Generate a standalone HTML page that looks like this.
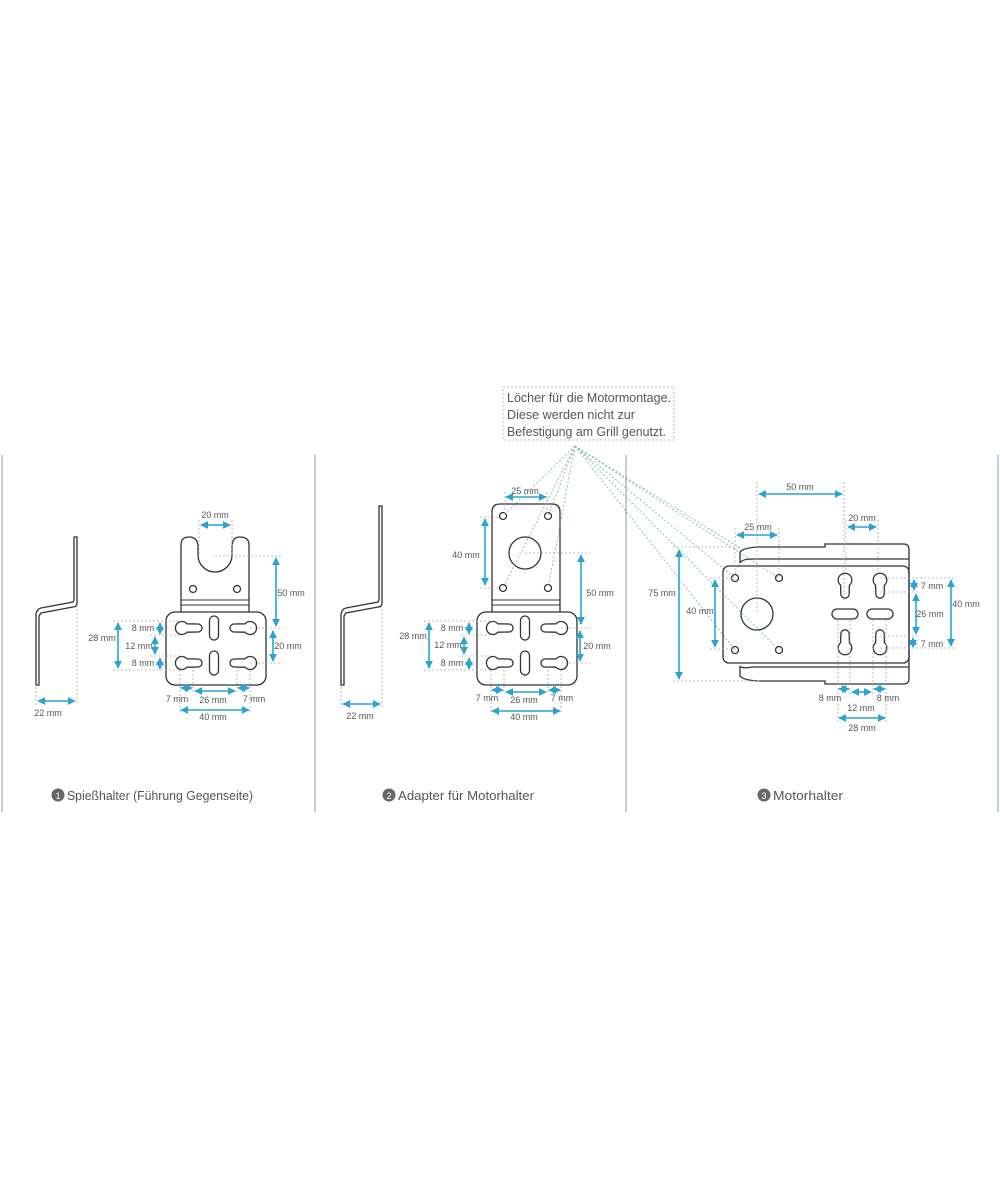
<!DOCTYPE html>
<html><head><meta charset="utf-8"><style>
html,body{margin:0;padding:0;background:#fff;}
svg{display:block;font-family:"Liberation Sans",sans-serif;}
.o{fill:none;stroke:#333;stroke-width:1.3;}
.d{stroke:#29a3d0;stroke-width:1.6;marker-start:url(#a);marker-end:url(#a);}
.e{stroke:#aaa;stroke-width:0.8;stroke-dasharray:2,2;fill:none;}
.g{stroke:#6fb3a3;stroke-width:0.8;stroke-dasharray:2,2;fill:none;}
.t{font-size:9px;fill:#555;text-anchor:middle;}
.c{font-size:13px;fill:#555;}
</style></head><body>
<svg width="1000" height="1200" viewBox="0 0 1000 1200">
<defs>
<marker id="a" viewBox="0 0 10 10" refX="9" refY="5" markerWidth="5" markerHeight="5" orient="auto-start-reverse"><path d="M0,0 L10,5 L0,10 Z" fill="#29a3d0"/></marker>
<path id="k" d="M4.9,-4.2 L16,-4 A4,4 0 0 1 16,4 L4.9,4.2 A6.5,6.5 0 1 1 4.9,-4.2 Z" fill="none" stroke="#333" stroke-width="1.3"/>
<path id="k2" d="M5.2,-4.4 L14,-4.2 A4.2,4.2 0 0 1 14,4.2 L5.2,4.4 A6.8,6.8 0 1 1 5.2,-4.4 Z" fill="none" stroke="#333" stroke-width="1.3"/>
<rect id="s" x="-4.5" y="-12" width="9" height="24" rx="4.5" fill="none" stroke="#333" stroke-width="1.3"/>
</defs>
<g stroke="#8899aa" stroke-width="1"><line x1="2" y1="455" x2="2" y2="812"/><line x1="315" y1="455" x2="315" y2="812"/><line x1="626" y1="455" x2="626" y2="812"/><line x1="998" y1="455" x2="998" y2="812"/></g>

<!-- PANEL 1 -->
<path class="o" d="M74,537 L77,537 L77,603 Q77,607 73,607 L41,613 L39,616 L39,685 L36,685 L36,614 Q37,609 41,608 L73,602 L74,600 Z"/>
<line class="e" x1="36" y1="687" x2="36" y2="705"/><line class="e" x1="77" y1="605" x2="77" y2="705"/>
<line class="d" x1="38" y1="701" x2="75" y2="701"/><text class="t" x="48" y="716">22 mm</text>

<path class="o" d="M181,612 L181,545 Q181,537 189,537 Q198,537 198,547 L198,555 A17,17 0 0 0 232,555 L232,547 Q232,537 240,537 Q249,537 249,545 L249,612"/>
<circle class="o" cx="193" cy="589" r="3.5"/><circle class="o" cx="237" cy="589" r="3.5"/>
<g stroke="#333" stroke-width="1"><line x1="181" y1="600" x2="249" y2="600"/><line x1="181" y1="605" x2="249" y2="605"/></g>
<rect class="o" x="166" y="612" width="100" height="73" rx="9"/>
<use href="#k" transform="translate(182,628)"/><use href="#k" transform="translate(182,663)"/>
<use href="#k" transform="translate(250,628) rotate(180)"/><use href="#k" transform="translate(250,663) rotate(180)"/>
<use href="#s" transform="translate(214,628)"/><use href="#s" transform="translate(214,663)"/>
<line class="e" x1="199" y1="520" x2="199" y2="555"/><line class="e" x1="232" y1="520" x2="232" y2="555"/>
<line class="d" x1="201" y1="525" x2="230" y2="525"/><text class="t" x="215" y="518">20 mm</text>
<line class="e" x1="215" y1="556" x2="283" y2="556"/><line class="e" x1="250" y1="628" x2="283" y2="628"/><line class="e" x1="250" y1="663" x2="283" y2="663"/>
<line class="d" x1="276" y1="558" x2="276" y2="626"/><text class="t" x="291" y="596">50 mm</text>
<line class="d" x1="273" y1="631" x2="273" y2="661"/><text class="t" x="288" y="649">20 mm</text>
<line class="e" x1="113" y1="621" x2="182" y2="621"/><line class="e" x1="113" y1="670" x2="182" y2="670"/><line class="e" x1="150" y1="635" x2="182" y2="635"/><line class="e" x1="150" y1="656" x2="182" y2="656"/>
<line class="d" x1="118" y1="623" x2="118" y2="668"/><text class="t" x="102" y="641">28 mm</text>
<line class="d" x1="160" y1="623" x2="160" y2="634"/><text class="t" x="143" y="631">8 mm</text>
<line class="d" x1="155" y1="637" x2="155" y2="654"/><text class="t" x="139" y="649">12 mm</text>
<line class="d" x1="160" y1="658" x2="160" y2="669"/><text class="t" x="143" y="666">8 mm</text>
<line class="e" x1="180" y1="670" x2="180" y2="714"/><line class="e" x1="193" y1="670" x2="193" y2="694"/><line class="e" x1="237" y1="670" x2="237" y2="694"/><line class="e" x1="250" y1="670" x2="250" y2="714"/>
<line class="d" x1="181" y1="688" x2="192" y2="688"/><line class="d" x1="195" y1="691" x2="235" y2="691"/><line class="d" x1="238" y1="688" x2="249" y2="688"/>
<line class="d" x1="181" y1="710" x2="249" y2="710"/>
<text class="t" x="177" y="702">7 mm</text><text class="t" x="213" y="703">26 mm</text><text class="t" x="254" y="702">7 mm</text><text class="t" x="213" y="720">40 mm</text>

<!-- PANEL 2 -->
<path class="o" d="M379,506 L382,506 L382,603 Q382,607 378,607 L346,613 L344,616 L344,685 L341,685 L341,614 Q342,609 346,608 L378,602 L379,600 Z"/>
<line class="e" x1="341" y1="687" x2="341" y2="708"/><line class="e" x1="382" y1="605" x2="382" y2="708"/>
<line class="d" x1="343" y1="704" x2="380" y2="704"/><text class="t" x="360" y="719">22 mm</text>
<path class="o" d="M492,612 L492,512 Q492,504 500,504 L552,504 Q560,504 560,512 L560,612"/>
<circle class="o" cx="525" cy="553" r="16"/>
<circle class="o" cx="503" cy="516" r="3.5"/><circle class="o" cx="548" cy="516" r="3.5"/><circle class="o" cx="503" cy="588" r="3.5"/><circle class="o" cx="548" cy="588" r="3.5"/>
<g stroke="#333" stroke-width="1"><line x1="492" y1="600" x2="560" y2="600"/><line x1="492" y1="605" x2="560" y2="605"/></g>
<rect class="o" x="477" y="612" width="100" height="73" rx="9"/>
<use href="#k" transform="translate(493,628)"/><use href="#k" transform="translate(493,663)"/>
<use href="#k" transform="translate(561,628) rotate(180)"/><use href="#k" transform="translate(561,663) rotate(180)"/>
<use href="#s" transform="translate(525,628)"/><use href="#s" transform="translate(525,663)"/>
<line class="e" x1="505" y1="492" x2="505" y2="515"/><line class="e" x1="547" y1="492" x2="547" y2="515"/>
<line class="d" x1="506" y1="497" x2="546" y2="497"/><text class="t" x="525" y="494">25 mm</text>
<line class="e" x1="480" y1="517" x2="503" y2="517"/><line class="e" x1="480" y1="588" x2="503" y2="588"/>
<line class="d" x1="485" y1="519" x2="485" y2="585"/><text class="t" x="466" y="558">40 mm</text>
<line class="e" x1="525" y1="553" x2="590" y2="553"/><line class="e" x1="561" y1="628" x2="590" y2="628"/><line class="e" x1="561" y1="663" x2="590" y2="663"/>
<line class="d" x1="581" y1="555" x2="581" y2="624"/><text class="t" x="600" y="596">50 mm</text>
<line class="d" x1="580" y1="631" x2="580" y2="661"/><text class="t" x="597" y="649">20 mm</text>
<line class="e" x1="424" y1="621" x2="493" y2="621"/><line class="e" x1="424" y1="670" x2="493" y2="670"/><line class="e" x1="461" y1="635" x2="493" y2="635"/><line class="e" x1="461" y1="656" x2="493" y2="656"/>
<line class="d" x1="429" y1="623" x2="429" y2="668"/><text class="t" x="413" y="639">28 mm</text>
<line class="d" x1="469" y1="623" x2="469" y2="634"/><text class="t" x="452" y="631">8 mm</text>
<line class="d" x1="464" y1="637" x2="464" y2="654"/><text class="t" x="448" y="648">12 mm</text>
<line class="d" x1="469" y1="658" x2="469" y2="669"/><text class="t" x="452" y="666">8 mm</text>
<line class="e" x1="491" y1="670" x2="491" y2="714"/><line class="e" x1="504" y1="670" x2="504" y2="694"/><line class="e" x1="548" y1="670" x2="548" y2="694"/><line class="e" x1="561" y1="670" x2="561" y2="714"/>
<line class="d" x1="492" y1="690" x2="503" y2="690"/><line class="d" x1="506" y1="692" x2="546" y2="692"/><line class="d" x1="549" y1="690" x2="560" y2="690"/>
<line class="d" x1="492" y1="711" x2="560" y2="711"/>
<text class="t" x="487" y="701">7 mm</text><text class="t" x="524" y="703">26 mm</text><text class="t" x="562" y="701">7 mm</text><text class="t" x="524" y="720">40 mm</text>

<!-- callout -->
<rect x="503" y="387" width="171" height="53" fill="none" stroke="#aaa" stroke-width="0.8" stroke-dasharray="2,2"/>
<text class="c" x="507" y="402" textLength="164" lengthAdjust="spacingAndGlyphs">Löcher für die Motormontage.</text>
<text class="c" x="507" y="419" textLength="128" lengthAdjust="spacingAndGlyphs">Diese werden nicht zur</text>
<text class="c" x="507" y="436" textLength="159" lengthAdjust="spacingAndGlyphs">Befestigung am Grill genutzt.</text>
<g class="g"><line x1="575" y1="446" x2="503" y2="516"/><line x1="575" y1="446" x2="548" y2="516"/><line x1="575" y1="446" x2="503" y2="588"/><line x1="575" y1="446" x2="548" y2="588"/><line x1="575" y1="446" x2="740" y2="548"/><line x1="575" y1="446" x2="735" y2="578"/><line x1="575" y1="446" x2="779" y2="578"/><line x1="575" y1="446" x2="735" y2="650"/><line x1="575" y1="446" x2="779" y2="650"/></g>

<!-- PANEL 3 -->
<path class="o" d="M740,563 L740,552 Q743,548 758,547 L825,547 L825,544 L904,544 Q909,544 909,550 L909,678 Q909,684 904,684 L825,684 L825,681 L758,681 Q743,680 740,676 L740,666"/>
<line class="o" x1="752" y1="559" x2="909" y2="559"/><line class="o" x1="752" y1="667" x2="909" y2="667"/>
<path class="o" d="M740,563 Q742,559 752,559 M740,666 Q742,669 752,667"/>
<rect class="o" x="723" y="566" width="186" height="97" rx="6" fill="#fff"/>
<circle class="o" cx="757" cy="614" r="16"/>
<circle class="o" cx="735" cy="578" r="3.5"/><circle class="o" cx="779" cy="578" r="3.5"/><circle class="o" cx="735" cy="650" r="3.5"/><circle class="o" cx="779" cy="650" r="3.5"/>
<use href="#k2" transform="translate(845,580) rotate(90)"/><use href="#k2" transform="translate(880,580) rotate(90)"/>
<use href="#k2" transform="translate(845,648) rotate(-90)"/><use href="#k2" transform="translate(880,648) rotate(-90)"/>
<rect class="o" x="832" y="609" width="26" height="10" rx="5"/><rect class="o" x="867" y="609" width="26" height="10" rx="5"/>
<line class="e" x1="757" y1="482" x2="757" y2="614"/><line class="e" x1="844" y1="482" x2="844" y2="600"/>
<line class="d" x1="759" y1="494" x2="842" y2="494"/><text class="t" x="800" y="490">50 mm</text>
<line class="e" x1="735" y1="528" x2="735" y2="575"/><line class="e" x1="779" y1="528" x2="779" y2="575"/>
<line class="d" x1="737" y1="535" x2="777" y2="535"/><text class="t" x="758" y="530">25 mm</text>
<line class="e" x1="846" y1="520" x2="846" y2="570"/><line class="e" x1="878" y1="520" x2="878" y2="570"/>
<line class="d" x1="848" y1="527" x2="876" y2="527"/><text class="t" x="862" y="521">20 mm</text>
<line class="e" x1="673" y1="547" x2="740" y2="547"/><line class="e" x1="673" y1="681" x2="760" y2="681"/>
<line class="d" x1="679" y1="550" x2="679" y2="679"/><text class="t" x="662" y="596">75 mm</text>
<line class="e" x1="710" y1="578" x2="735" y2="578"/><line class="e" x1="710" y1="649" x2="735" y2="649"/>
<line class="d" x1="715" y1="580" x2="715" y2="647"/><text class="t" x="700" y="614">40 mm</text>
<line class="e" x1="880" y1="578" x2="955" y2="578"/><line class="e" x1="880" y1="592" x2="920" y2="592"/><line class="e" x1="880" y1="636" x2="920" y2="636"/><line class="e" x1="880" y1="648" x2="955" y2="648"/>
<line class="d" x1="914" y1="580" x2="914" y2="590"/><text class="t" x="932" y="589">7 mm</text>
<line class="d" x1="916" y1="594" x2="916" y2="634"/><text class="t" x="930" y="617">26 mm</text>
<line class="d" x1="951" y1="580" x2="951" y2="646"/><text class="t" x="966" y="607">40 mm</text>
<line class="d" x1="913" y1="638" x2="913" y2="647"/><text class="t" x="932" y="647">7 mm</text>
<line class="e" x1="838" y1="620" x2="838" y2="724"/><line class="e" x1="850" y1="620" x2="850" y2="694"/><line class="e" x1="873" y1="620" x2="873" y2="694"/><line class="e" x1="886" y1="620" x2="886" y2="724"/>
<line class="d" x1="839" y1="689" x2="849" y2="689"/><line class="d" x1="852" y1="692" x2="871" y2="692"/><line class="d" x1="874" y1="689" x2="885" y2="689"/>
<line class="d" x1="839" y1="718" x2="885" y2="718"/>
<text class="t" x="830" y="701">8 mm</text><text class="t" x="861" y="711">12 mm</text><text class="t" x="888" y="701">8 mm</text><text class="t" x="862" y="731">28 mm</text>

<!-- captions -->
<circle cx="58" cy="795" r="6.5" fill="#666"/><text x="58" y="799" font-size="9" fill="#fff" text-anchor="middle">1</text>
<text class="c" x="67" y="800" textLength="186" lengthAdjust="spacingAndGlyphs">Spießhalter (Führung Gegenseite)</text>
<circle cx="389" cy="795" r="6.5" fill="#666"/><text x="389" y="799" font-size="9" fill="#fff" text-anchor="middle">2</text>
<text class="c" x="398" y="800" textLength="136" lengthAdjust="spacingAndGlyphs">Adapter für Motorhalter</text>
<circle cx="764" cy="795" r="6.5" fill="#666"/><text x="764" y="799" font-size="9" fill="#fff" text-anchor="middle">3</text>
<text class="c" x="773" y="800" textLength="70" lengthAdjust="spacingAndGlyphs">Motorhalter</text>
</svg>
</body></html>
